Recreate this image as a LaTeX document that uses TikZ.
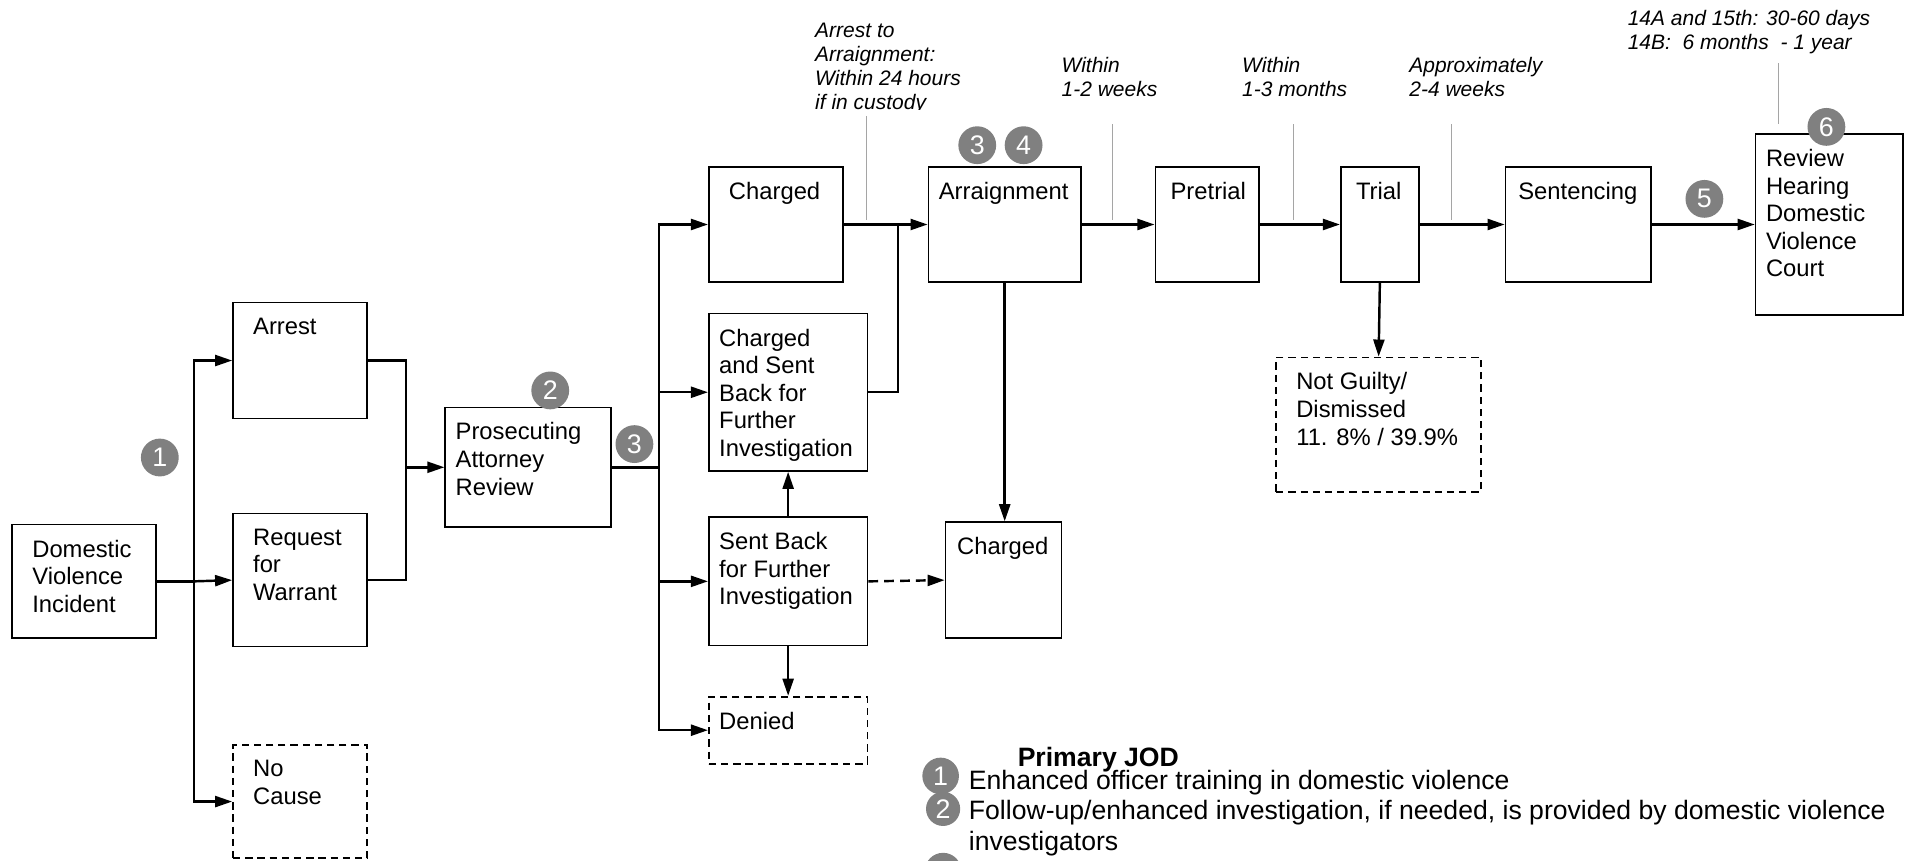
\documentclass[tikz,border=0pt]{standalone}
\usepackage{fontspec}
\setmainfont{Liberation Sans}
\usetikzlibrary{arrows.meta}
\definecolor{badgegray}{RGB}{128,128,128}
\definecolor{leadgray}{RGB}{165,165,165}
\tikzset{
  stage/.style={draw, rectangle, line width=1.4pt, inner sep=0pt},
  dropped/.style={stage, dash pattern=on 6pt off 4pt},
  stagetext/.style={anchor=north west, inner sep=0pt, align=left, font=\fontsize{19.5}{22.6}\selectfont},
  link/.style={line width=2pt},
  flow/.style={link, -{Triangle[length=14pt,width=9pt]}},
  note/.style={anchor=north west, inner sep=0pt, align=left, font=\fontsize{17.2}{19.6}\selectfont\itshape},
  lead/.style={draw=leadgray, line width=0.9pt},
  badge/.style={circle, fill=badgegray, text=white, inner sep=0pt, minimum size=31pt, font=\fontsize{22}{22}\selectfont},
  legend/.style={anchor=base west, inner sep=0pt, align=left, font=\fontsize{21.8}{25}\selectfont}
}
\begin{document}
\begin{tikzpicture}[x=1pt,y=-1pt]
\useasboundingbox (0,0) rectangle (1568,705);

% boxes
\node [stage, minimum width=118pt, minimum height=93pt] (dvi) at (69,476.5) {};
\node [stage, minimum width=110pt, minimum height=95pt] (arrest) at (246,295.5) {};
\node [stage, minimum width=110pt, minimum height=109pt] (warrant) at (246,475.5) {};
\node [dropped, minimum width=110pt, minimum height=93pt] (nocause) at (246,657) {};
\node [stage, minimum width=136pt, minimum height=98pt] (par) at (433,383) {};
\node [stage, minimum width=110pt, minimum height=94pt] (charged) at (636,184) {};
\node [stage, minimum width=130pt, minimum height=129pt] (csb) at (646,321.5) {};
\node [stage, minimum width=130pt, minimum height=105pt] (sb) at (646,476.5) {};
\node [dropped, minimum width=130pt, minimum height=55pt] (denied) at (646,598.5) {};
\node [stage, minimum width=125pt, minimum height=94pt] (arraign) at (823.5,184) {};
\node [stage, minimum width=95pt, minimum height=95pt] (charged2) at (822.5,475.5) {};
\node [stage, minimum width=85pt, minimum height=94pt] (pretrial) at (989.5,184) {};
\node [stage, minimum width=64pt, minimum height=94pt] (trial) at (1131,184) {};
\node [stage, minimum width=119pt, minimum height=94pt] (sent) at (1293.5,184) {};
\node [stage, minimum width=121pt, minimum height=148pt] (review) at (1499.5,184) {};
\node [dropped, minimum width=168pt, minimum height=110pt] (ng) at (1130,348) {};

% box texts
\node [stagetext] (dvi-t) at ([shift={(17,13)}]dvi.north west) {Domestic\\Violence\\Incident};
\node [stagetext] (arrest-t) at ([shift={(17,13)}]arrest.north west) {Arrest};
\node [stagetext] (warrant-t) at ([shift={(17,13)}]warrant.north west) {Request\\for\\Warrant};
\node [stagetext] (nocause-t) at ([shift={(17,13)}]nocause.north west) {No\\Cause};
\node [stagetext] (par-t) at ([shift={(9,13)}]par.north west) {Prosecuting\\Attorney\\Review};
\node [stagetext] (charged-t) at ([shift={(17,13)}]charged.north west) {Charged};
\node [stagetext] (csb-t) at ([shift={(9,13)}]csb.north west) {Charged\\and Sent\\Back for\\Further\\Investigation};
\node [stagetext] (sb-t) at ([shift={(9,13)}]sb.north west) {Sent Back\\for Further\\Investigation};
\node [stagetext] (denied-t) at ([shift={(9,13)}]denied.north west) {Denied};
\node [stagetext] (arraign-t) at ([shift={(9,13)}]arraign.north west) {Arraignment};
\node [stagetext] (charged2-t) at ([shift={(10,13)}]charged2.north west) {Charged};
\node [stagetext] (pretrial-t) at ([shift={(13,13)}]pretrial.north west) {Pretrial};
\node [stagetext] (trial-t) at ([shift={(13,13)}]trial.north west) {Trial};
\node [stagetext] (sent-t) at ([shift={(11,13)}]sent.north west) {Sentencing};
\node [stagetext] (review-t) at ([shift={(9,13)}]review.north west) {Review\\Hearing\\Domestic\\Violence\\Court};
\node [stagetext] (ng-t) at ([shift={(17,13)}]ng.north west) {Not Guilty/\\Dismissed\\11. 8\% / 39.9\%};

% bus points
\coordinate (busA) at (159,476.5);
\coordinate (busB) at (333,383);
\coordinate (busC) at (540,383);
\coordinate (busD) at (736,184);

% connectors
\draw [link] (dvi.east) -- (busA);
\draw [flow] (busA) |- (arrest.west);
\draw [flow] (busA) -- (warrant.west);
\draw [flow] (busA) |- (nocause.west);
\draw [link] (arrest.east) -| (busB);
\draw [link] (warrant.east) -| (busB);
\draw [flow] (busB) -- (par.west);
\draw [link] (par.east) -- (busC);
\draw [flow] (busC) |- (charged.west);
\draw [flow] (busC) |- (csb.west);
\draw [flow] (busC) |- (sb.west);
\draw [flow] (busC) |- (denied.west);
\draw [flow] (sb.north) -- (csb.south);
\draw [flow] (sb.south) -- (denied.north);
\draw [flow, dash pattern=on 8pt off 5pt] (sb.east) -- (charged2.west);
\draw [flow] (charged.east) -- (arraign.west);
\draw [link] (csb.east) -| (busD);
\draw [flow] (arraign.south) -- (arraign.south |- charged2.north);
\draw [flow] (arraign.east) -- (pretrial.west);
\draw [flow] (pretrial.east) -- (trial.west);
\draw [flow] (trial.east) -- (sent.west);
\draw [flow] (sent.east) -- (review.west);
\draw [flow] (trial.south) -- (ng.north);

% time notes
\begin{scope}
\clip (650,0) rectangle (860,90);
\node [note] (note1) at (668,19) {Arrest to\\Arraignment:\\Within 24 hours\\if in custody};
\end{scope}
\node [note] (note2) at (870,47) {Within\\1-2 weeks};
\node [note] (note3) at (1018,47) {Within\\1-3 months};
\node [note] (note4) at (1155,47) {Approximately\\2-4 weeks};
\node [note] (note5) at (1334,8) {14A and 15th: 30-60 days\\14B:\ \ 6 months\ \ - 1 year};
\draw [lead] (710,95) -- (710,180);
\draw [lead] (912,102) -- (912,180);
\draw [lead] (1060,102) -- (1060,180);
\draw [lead] (1190,102) -- (1190,180);
\draw [lead] (1458,52) -- (1458,102);

% badges
\node [badge] (b1) at (131,375) {1};
\node [badge] (b2) at (451,320) {2};
\node [badge] (b3) at (520,364) {3};
\node [badge] (b3a) at (801,119) {3};
\node [badge] (b4) at (839,119) {4};
\node [badge] (b5) at (1397,163) {5};
\node [badge] (b6) at (1497,104) {6};

% legend
\node [legend, font=\fontsize{21.8}{25}\selectfont\bfseries] (legtitle) at (834,628) {Primary JOD};
\node [badge, minimum size=30pt] (l1) at (771,636) {1};
\node [badge, minimum size=28pt] (l2) at (773,663) {2};
\node [badge, minimum size=30pt] (l3) at (773,714) {};
\node [legend] (leg1) at (794,647) {Enhanced officer training in domestic violence};
\node [legend] (leg2) at (794,697) {Follow-up/enhanced investigation, if needed, is provided by domestic violence\\investigators};
\end{tikzpicture}
\end{document}
